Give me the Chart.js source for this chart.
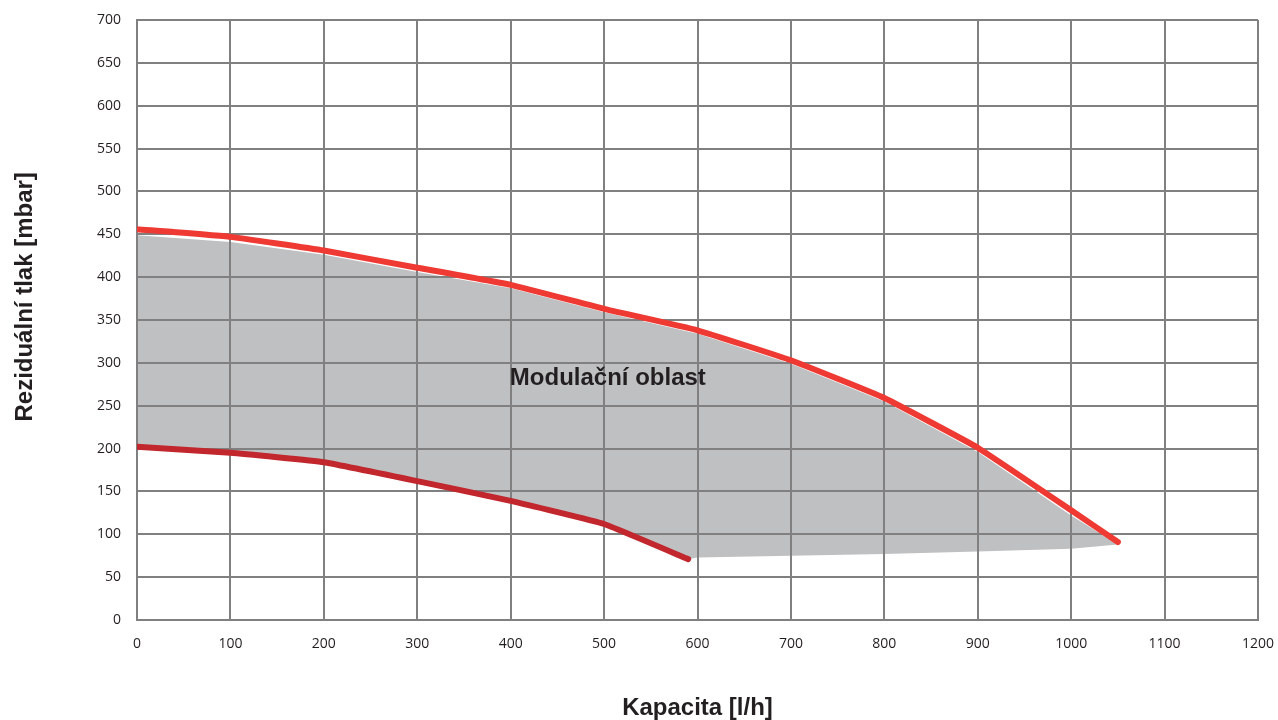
<!DOCTYPE html>
<html lang="cs">
<head>
<meta charset="utf-8">
<title>Reziduální tlak – Kapacita</title>
<script src="https://cdn.jsdelivr.net/npm/chart.js@4/dist/chart.umd.min.js"></script>
<style>
  html, body { margin: 0; padding: 0; background: #ffffff; }
  #wrap { width: 1278px; height: 720px; position: relative; }
  canvas { background: #ffffff; }
</style>
</head>
<body>
<div id="wrap"><canvas id="c"></canvas></div>
<script>
// Pump curve: maximum and minimum residual pressure vs. capacity
const maxFlow = [0, 100, 200, 300, 400, 500, 600, 700, 800, 900, 1000, 1050];
const maxPressure = [456, 447, 431, 411, 391, 363, 338, 303, 259, 201, 128, 91];

const minFlow = [0, 100, 200, 300, 400, 500, 590];
const minPressure = [202, 195, 184, 162, 139, 112, 71];

// Modulation region (shaded band)
const bandTopFlow = [0, 100, 200, 300, 400, 500, 600, 700, 800, 900, 1000, 1050];
const bandTop = [449, 441, 426, 406, 387, 359, 334, 299, 255, 196, 122, 88];
const bandBottomFlow = [0, 100, 200, 300, 400, 500, 590, 600, 700, 800, 900, 1000, 1050];
const bandBottom = [202, 195, 184, 162, 139, 112, 71, 73, 75, 77, 80, 83, 88];

const xTicks = [0, 100, 200, 300, 400, 500, 600, 700, 800, 900, 1000, 1100, 1200];
const yTicks = [0, 50, 100, 150, 200, 250, 300, 350, 400, 450, 500, 550, 600, 650, 700];

const regionLabel = { text: 'Modulační oblast', flow: 504, pressure: 282 };
const xTitle = 'Kapacita [l/h]';
const yTitle = 'Reziduální tlak [mbar]';
const yTitleAt = 377; // pressure value where the vertical title is centred

const pts = (xs, ys) => xs.map((x, i) => ({ x, y: ys[i] }));

const gridColor = '#808080';
const textColor = '#231f20';
const titleFont = '"Liberation Sans", Arial, sans-serif';

const labelsPlugin = {
  id: 'labels',
  afterDraw(chart) {
    const { ctx, scales } = chart;
    ctx.save();
    ctx.fillStyle = textColor;
    ctx.font = 'bold 24px ' + titleFont;
    ctx.textAlign = 'center';
    ctx.textBaseline = 'middle';
    ctx.fillText(regionLabel.text,
      scales.x.getPixelForValue(regionLabel.flow),
      scales.y.getPixelForValue(regionLabel.pressure));
    // vertical axis title
    ctx.translate(25, scales.y.getPixelForValue(yTitleAt));
    ctx.rotate(-Math.PI / 2);
    ctx.fillText(yTitle, 0, 0);
    ctx.restore();
  }
};

new Chart(document.getElementById('c'), {
  type: 'line',
  data: {
    datasets: [
      {
        label: 'band-top',
        data: pts(bandTopFlow, bandTop),
        borderWidth: 0,
        borderColor: 'rgba(0,0,0,0)',
        backgroundColor: '#bfc0c2',
        pointRadius: 0,
        tension: 0,
        fill: '+1'
      },
      {
        label: 'band-bottom',
        data: pts(bandBottomFlow, bandBottom),
        borderWidth: 0,
        borderColor: 'rgba(0,0,0,0)',
        pointRadius: 0,
        tension: 0,
        fill: false
      },
      {
        label: 'max',
        data: pts(maxFlow, maxPressure),
        borderColor: '#ee3a33',
        borderWidth: 6,
        borderCapStyle: 'round',
        borderJoinStyle: 'round',
        pointRadius: 0,
        tension: 0.1,
        fill: false
      },
      {
        label: 'min',
        data: pts(minFlow, minPressure),
        borderColor: '#c1272d',
        borderWidth: 6,
        borderCapStyle: 'round',
        borderJoinStyle: 'round',
        pointRadius: 0,
        tension: 0.1,
        fill: false
      }
    ]
  },
  options: {
    responsive: true,
    maintainAspectRatio: false,
    animation: false,
    layout: { padding: { top: 20, right: 20, left: 0, bottom: 0 } },
    plugins: {
      legend: { display: false },
      tooltip: { enabled: false },
      filler: { drawTime: 'beforeDraw' }
    },
    scales: {
      x: {
        type: 'linear',
        min: 0,
        max: 1200,
        afterBuildTicks(scale) { scale.ticks = xTicks.map(v => ({ value: v })); },
        afterFit(scale) {
          scale.height = 100;
          scale.paddingLeft = 0;
          scale.paddingRight = 0;
        },
        grid: { color: gridColor, lineWidth: 2, drawTicks: false },
        border: { color: gridColor, width: 2 },
        ticks: {
          color: textColor,
          padding: 16,
          maxRotation: 0,
          callback: v => String(v),
          font: { family: '"Open Sans", sans-serif', size: 14 }
        },
        title: {
          display: true,
          text: xTitle,
          color: textColor,
          padding: { top: 1, bottom: 0 },
          font: { family: titleFont, size: 24, weight: 'bold', lineHeight: 1 }
        }
      },
      y: {
        min: 0,
        max: 700,
        afterBuildTicks(scale) { scale.ticks = yTicks.map(v => ({ value: v })); },
        afterFit(scale) {
          scale.width = 137;
          scale.paddingTop = 0;
          scale.paddingBottom = 0;
        },
        grid: { color: gridColor, lineWidth: 2, drawTicks: false },
        border: { color: gridColor, width: 2 },
        ticks: {
          color: textColor,
          padding: 16,
          callback: v => String(v),
          font: { family: '"Open Sans", sans-serif', size: 14 }
        }
      }
    }
  },
  plugins: [labelsPlugin]
});
</script>
</body>
</html>
